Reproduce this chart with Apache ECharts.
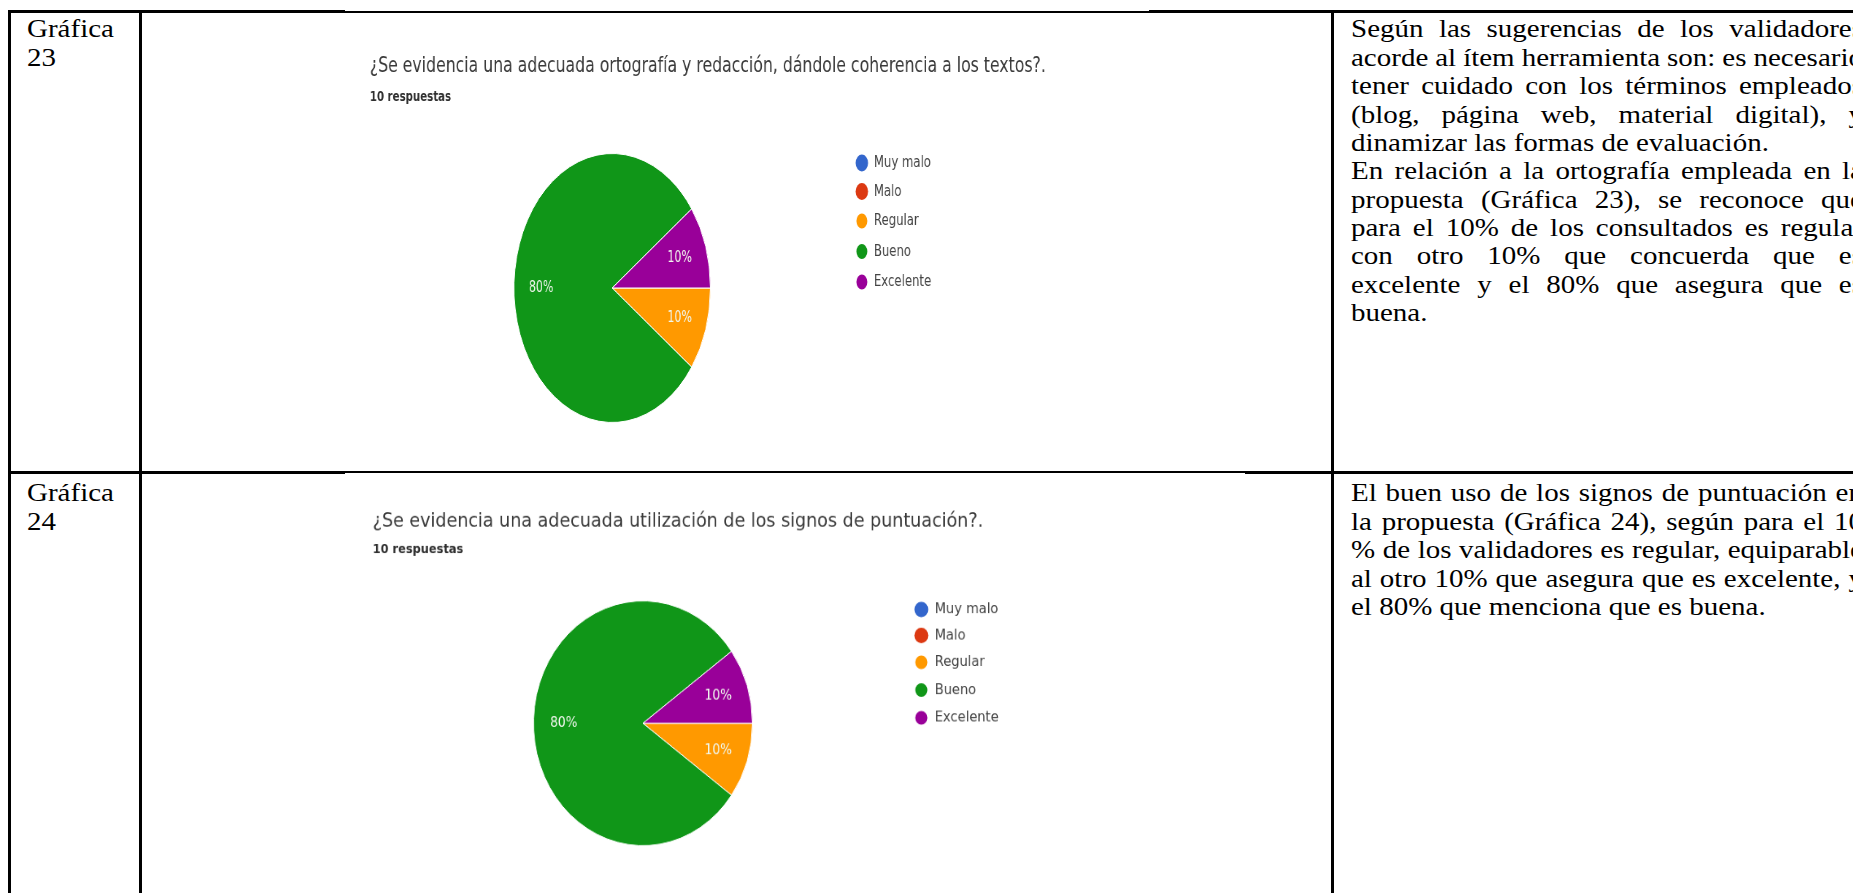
<!DOCTYPE html>
<html>
<head>
<meta charset="utf-8">
<script src="https://cdn.jsdelivr.net/npm/echarts/dist/echarts.min.js"></script>
<style>
html,body{margin:0;padding:0;background:#fff;width:1853px;height:893px;overflow:hidden;position:relative;}
.b{position:absolute;background:#000;}
.lab{position:absolute;left:27px;font-family:"Liberation Serif","Times New Roman",serif;font-size:29px;line-height:33px;color:#000;transform-origin:0 0;transform:scaleY(0.86);}
.col{position:absolute;left:1351px;width:512px;font-family:"Liberation Serif","Times New Roman",serif;font-size:29px;color:#000;transform-origin:0 0;transform:scaleY(0.86);}
.ln{display:flex;justify-content:space-between;white-space:nowrap;}
.ln.last{display:block;}
.chart{position:absolute;left:345px;width:1104px;transform-origin:0 0;}
</style>
</head>
<body>
<!-- table borders -->
<div class="b" style="left:8px;top:10px;width:3px;height:883px"></div>
<div class="b" style="left:8px;top:10px;width:337px;height:3px"></div>
<div class="b" style="left:345px;top:11px;width:804px;height:2px"></div>
<div class="b" style="left:1149px;top:10px;width:704px;height:3px"></div>
<div class="b" style="left:139px;top:10px;width:3px;height:883px"></div>
<div class="b" style="left:1331px;top:10px;width:3px;height:883px"></div>
<div class="b" style="left:8px;top:471px;width:337px;height:3px"></div>
<div class="b" style="left:345px;top:471px;width:900px;height:2px"></div>
<div class="b" style="left:1245px;top:471px;width:608px;height:3px"></div>

<div class="lab" id="lab23" style="top:15.4px"></div>
<div class="lab" id="lab24" style="top:479.4px"></div>

<div class="chart" id="c23" style="top:13px;height:458px;transform:scale(0.73,1)"></div>
<div class="chart" id="c24" style="top:473px;height:461px;transform:scale(0.814,0.91)"></div>

<div class="col" id="t23" style="top:15.4px"></div>
<div class="col" id="t24" style="top:479.4px"></div>

<script>
// ---------- data ----------
const categories = ['Muy malo', 'Malo', 'Regular', 'Bueno', 'Excelente'];
const values23 = [0, 0, 1, 8, 1];
const values24 = [0, 0, 1, 8, 1];
const title23 = '¿Se evidencia una adecuada ortografía y redacción, dándole coherencia a los textos?.';
const title24 = '¿Se evidencia una adecuada utilización de los signos de puntuación?.';
const responses23 = '10 respuestas';
const responses24 = '10 respuestas';
const label23 = ['Gráfica', '23'];
const label24 = ['Gráfica', '24'];
const text23 = [
  'Según las sugerencias de los validadores',
  'acorde al ítem herramienta son: es necesario',
  'tener cuidado con los términos empleados',
  '(blog, página web, material digital), y',
  'dinamizar las formas de evaluación.',
  'En relación a la ortografía empleada en la',
  'propuesta (Gráfica 23), se reconoce que',
  'para el 10% de los consultados es regular',
  'con otro 10% que concuerda que es',
  'excelente y el 80% que asegura que es',
  'buena.'
];
const text23Ends = [4, 10];
const text24 = [
  'El buen uso de los signos de puntuación en',
  'la propuesta (Gráfica 24), según para el 10',
  '% de los validadores es regular, equiparable',
  'al otro 10% que asegura que es excelente, y',
  'el 80% que menciona que es buena.'
];
const text24Ends = [4];

// ---------- styles ----------
const palette = ['#3366cc', '#dc3912', '#ff9900', '#109618', '#990099'];
const LINE_H = 33;

function renderLabel(id, lines) {
  document.getElementById(id).innerHTML = lines.join('<br>');
}
function renderText(id, lines, ends) {
  const el = document.getElementById(id);
  lines.forEach((ln, i) => {
    const d = document.createElement('div');
    d.className = 'ln' + (ends.includes(i) ? ' last' : '');
    d.style.height = LINE_H + 'px';
    d.style.lineHeight = LINE_H + 'px';
    if (ends.includes(i)) {
      d.textContent = ln;
    } else {
      ln.split(' ').forEach(w => {
        const s = document.createElement('span');
        s.textContent = w;
        d.appendChild(s);
      });
    }
    el.appendChild(d);
  });
}
renderLabel('lab23', label23);
renderLabel('lab24', label24);
renderText('t23', text23, text23Ends);
renderText('t24', text24, text24Ends);

const FONT = 'DejaVu Sans';
function buildOption(title, responses, values) {
  const data = categories.map((c, i) => ({
    name: c, value: values[i],
    itemStyle: { color: palette[i], borderColor: '#ffffff', borderWidth: values[i] > 0 ? 1 : 0 }
  }));
  const labelData = categories.map((c, i) => ({ name: c, value: values[i] }));
  return {
    animation: false,
    title: [
      { text: title, left: 34, top: 42, padding: 0,
        textStyle: { fontFamily: FONT, fontSize: 21.5, fontWeight: 'normal', color: '#3a3a3a' } },
      { text: responses, left: 34, top: 77, padding: 0,
        textStyle: { fontFamily: FONT, fontSize: 14, fontWeight: 'bold', color: '#2f2f2f' } }
    ],
    legend: {
      orient: 'vertical', left: 698.5, top: 141.5, padding: 0,
      itemWidth: 17, itemHeight: 17, itemGap: 11.5, icon: 'circle', selectedMode: false,
      textStyle: { fontFamily: FONT, fontSize: 16, color: '#444444', lineHeight: 17, padding: [0, 0, 0, 3] },
      data: categories.map((c, i) => ({ name: c, itemStyle: { color: palette[i] } }))
    },
    series: [
      { type: 'pie', center: [366, 275], radius: 134.5, startAngle: 0, clockwise: true,
        silent: true, selectedMode: false, emphasis: { disabled: true },
        label: { show: false }, labelLine: { show: false }, data: data },
      { type: 'pie', center: [366, 275], radius: [54, 134.5], startAngle: 0, clockwise: true,
        silent: true, selectedMode: false, emphasis: { disabled: true },
        itemStyle: { color: 'rgba(0,0,0,0)', borderWidth: 0 },
        label: { show: true, position: 'inside', color: '#f1f7ee', fontFamily: FONT, fontSize: 15,
          formatter: p => p.value > 0 ? Math.round(p.percent) + '%' : '' },
        labelLine: { show: false }, data: labelData }
    ]
  };
}

echarts.init(document.getElementById('c23')).setOption(buildOption(title23, responses23, values23));
echarts.init(document.getElementById('c24')).setOption(buildOption(title24, responses24, values24));
</script>
</body>
</html>
